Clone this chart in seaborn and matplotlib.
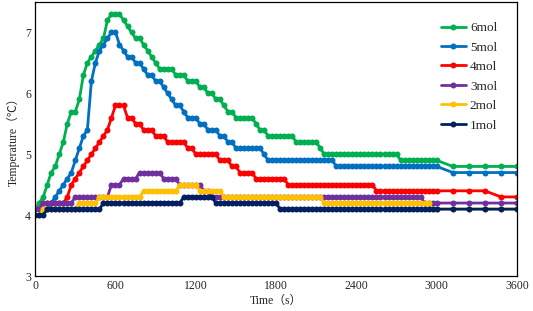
import pandas as pd
import seaborn as sns
import matplotlib.pyplot as plt
from matplotlib.colors import to_hex

# Sample times (s): every 30 s up to 3000 s, then every 120 s
time_s = list(range(0, 3001, 30)) + [3120, 3240, 3360, 3480, 3600]

# Temperature readings (degC), one row per 300 s, then the 3000-3600 tail
mol6 = [
    4.1, 4.2, 4.3, 4.5, 4.7, 4.8, 5.0, 5.2, 5.5, 5.7,
    5.7, 5.9, 6.3, 6.5, 6.6, 6.7, 6.8, 6.9, 7.2, 7.3,
    7.3, 7.3, 7.2, 7.1, 7.0, 6.9, 6.9, 6.8, 6.7, 6.6,
    6.5, 6.4, 6.4, 6.4, 6.4, 6.3, 6.3, 6.3, 6.2, 6.2,
    6.2, 6.1, 6.1, 6.0, 6.0, 5.9, 5.9, 5.8, 5.7, 5.7,
    5.6, 5.6, 5.6, 5.6, 5.6, 5.5, 5.4, 5.4, 5.3, 5.3,
    5.3, 5.3, 5.3, 5.3, 5.3, 5.2, 5.2, 5.2, 5.2, 5.2,
    5.2, 5.1, 5.0, 5.0, 5.0, 5.0, 5.0, 5.0, 5.0, 5.0,
    5.0, 5.0, 5.0, 5.0, 5.0, 5.0, 5.0, 5.0, 5.0, 5.0,
    5.0, 4.9, 4.9, 4.9, 4.9, 4.9, 4.9, 4.9, 4.9, 4.9,
    4.9, 4.8, 4.8, 4.8, 4.8, 4.8,
]
mol5 = [
    4.1, 4.1, 4.1, 4.1, 4.2, 4.3, 4.4, 4.5, 4.6, 4.7,
    4.9, 5.1, 5.3, 5.4, 6.2, 6.5, 6.7, 6.8, 6.9, 7.0,
    7.0, 6.8, 6.7, 6.6, 6.6, 6.5, 6.5, 6.4, 6.3, 6.3,
    6.2, 6.2, 6.1, 6.0, 5.9, 5.8, 5.8, 5.7, 5.6, 5.6,
    5.6, 5.5, 5.5, 5.4, 5.4, 5.4, 5.3, 5.3, 5.2, 5.2,
    5.1, 5.1, 5.1, 5.1, 5.1, 5.1, 5.1, 5.0, 4.9, 4.9,
    4.9, 4.9, 4.9, 4.9, 4.9, 4.9, 4.9, 4.9, 4.9, 4.9,
    4.9, 4.9, 4.9, 4.9, 4.9, 4.8, 4.8, 4.8, 4.8, 4.8,
    4.8, 4.8, 4.8, 4.8, 4.8, 4.8, 4.8, 4.8, 4.8, 4.8,
    4.8, 4.8, 4.8, 4.8, 4.8, 4.8, 4.8, 4.8, 4.8, 4.8,
    4.8, 4.7, 4.7, 4.7, 4.7, 4.7,
]
mol4 = [
    4.1, 4.1, 4.2, 4.2, 4.2, 4.2, 4.2, 4.2, 4.3, 4.5,
    4.6, 4.7, 4.8, 4.9, 5.0, 5.1, 5.2, 5.3, 5.4, 5.6,
    5.8, 5.8, 5.8, 5.6, 5.6, 5.5, 5.5, 5.4, 5.4, 5.4,
    5.3, 5.3, 5.3, 5.2, 5.2, 5.2, 5.2, 5.2, 5.1, 5.1,
    5.0, 5.0, 5.0, 5.0, 5.0, 5.0, 4.9, 4.9, 4.9, 4.8,
    4.8, 4.7, 4.7, 4.7, 4.7, 4.6, 4.6, 4.6, 4.6, 4.6,
    4.6, 4.6, 4.6, 4.5, 4.5, 4.5, 4.5, 4.5, 4.5, 4.5,
    4.5, 4.5, 4.5, 4.5, 4.5, 4.5, 4.5, 4.5, 4.5, 4.5,
    4.5, 4.5, 4.5, 4.5, 4.5, 4.4, 4.4, 4.4, 4.4, 4.4,
    4.4, 4.4, 4.4, 4.4, 4.4, 4.4, 4.4, 4.4, 4.4, 4.4,
    4.4, 4.4, 4.4, 4.4, 4.3, 4.3,
]
mol3 = [
    4.1, 4.1, 4.2, 4.2, 4.2, 4.2, 4.2, 4.2, 4.2, 4.2,
    4.3, 4.3, 4.3, 4.3, 4.3, 4.3, 4.3, 4.3, 4.3, 4.5,
    4.5, 4.5, 4.6, 4.6, 4.6, 4.6, 4.7, 4.7, 4.7, 4.7,
    4.7, 4.7, 4.6, 4.6, 4.6, 4.6, 4.5, 4.5, 4.5, 4.5,
    4.5, 4.5, 4.4, 4.4, 4.3, 4.3, 4.3, 4.3, 4.3, 4.3,
    4.3, 4.3, 4.3, 4.3, 4.3, 4.3, 4.3, 4.3, 4.3, 4.3,
    4.3, 4.3, 4.3, 4.3, 4.3, 4.3, 4.3, 4.3, 4.3, 4.3,
    4.3, 4.3, 4.3, 4.3, 4.3, 4.3, 4.3, 4.3, 4.3, 4.3,
    4.3, 4.3, 4.3, 4.3, 4.3, 4.3, 4.3, 4.3, 4.3, 4.3,
    4.3, 4.3, 4.3, 4.3, 4.3, 4.3, 4.3, 4.2, 4.2, 4.2,
    4.2, 4.2, 4.2, 4.2, 4.2, 4.2,
]
mol2 = [
    4.0, 4.0, 4.1, 4.1, 4.1, 4.1, 4.1, 4.1, 4.1, 4.1,
    4.1, 4.2, 4.2, 4.2, 4.2, 4.2, 4.3, 4.3, 4.3, 4.3,
    4.3, 4.3, 4.3, 4.3, 4.3, 4.3, 4.3, 4.4, 4.4, 4.4,
    4.4, 4.4, 4.4, 4.4, 4.4, 4.4, 4.5, 4.5, 4.5, 4.5,
    4.5, 4.4, 4.4, 4.4, 4.4, 4.4, 4.4, 4.3, 4.3, 4.3,
    4.3, 4.3, 4.3, 4.3, 4.3, 4.3, 4.3, 4.3, 4.3, 4.3,
    4.3, 4.3, 4.3, 4.3, 4.3, 4.3, 4.3, 4.3, 4.3, 4.3,
    4.3, 4.3, 4.2, 4.2, 4.2, 4.2, 4.2, 4.2, 4.2, 4.2,
    4.2, 4.2, 4.2, 4.2, 4.2, 4.2, 4.2, 4.2, 4.2, 4.2,
    4.2, 4.2, 4.2, 4.2, 4.2, 4.2, 4.2, 4.2, 4.2, 4.1,
    4.1, 4.1, 4.1, 4.1, 4.1, 4.1,
]
mol1 = [
    4.0, 4.0, 4.0, 4.1, 4.1, 4.1, 4.1, 4.1, 4.1, 4.1,
    4.1, 4.1, 4.1, 4.1, 4.1, 4.1, 4.1, 4.2, 4.2, 4.2,
    4.2, 4.2, 4.2, 4.2, 4.2, 4.2, 4.2, 4.2, 4.2, 4.2,
    4.2, 4.2, 4.2, 4.2, 4.2, 4.2, 4.2, 4.3, 4.3, 4.3,
    4.3, 4.3, 4.3, 4.3, 4.3, 4.2, 4.2, 4.2, 4.2, 4.2,
    4.2, 4.2, 4.2, 4.2, 4.2, 4.2, 4.2, 4.2, 4.2, 4.2,
    4.2, 4.1, 4.1, 4.1, 4.1, 4.1, 4.1, 4.1, 4.1, 4.1,
    4.1, 4.1, 4.1, 4.1, 4.1, 4.1, 4.1, 4.1, 4.1, 4.1,
    4.1, 4.1, 4.1, 4.1, 4.1, 4.1, 4.1, 4.1, 4.1, 4.1,
    4.1, 4.1, 4.1, 4.1, 4.1, 4.1, 4.1, 4.1, 4.1, 4.1,
    4.1, 4.1, 4.1, 4.1, 4.1, 4.1,
]

labels = ["6mol", "5mol", "4mol", "3mol", "2mol", "1mol"]
series = [mol6, mol5, mol4, mol3, mol2, mol1]
colors = {"6mol": "#00B050", "5mol": "#0070C0", "4mol": "#FF0000",
          "3mol": "#7030A0", "2mol": "#FFC000", "1mol": "#002060"}

# long-form table for seaborn
frames = []
for lab, vals in zip(labels, series):
    frames.append(pd.DataFrame({"time": time_s, "temp": vals, "series": lab}))
df = pd.concat(frames, ignore_index=True)

sns.set_style("white")
plt.rcParams["font.family"] = ["Liberation Serif", "Noto Sans CJK SC", "DejaVu Sans"]

fig, ax = plt.subplots(figsize=(5.33, 3.11), dpi=100)
fig.subplots_adjust(left=0.066, right=0.970, bottom=0.112, top=0.994)

sns.lineplot(data=df, x="time", y="temp", hue="series", hue_order=labels,
             palette=colors, marker="o", markersize=4.3, markeredgewidth=0,
             linewidth=2.0, legend=False, ax=ax)

# label the drawn lines by colour so the legend order is right
color_to_label = {v.lower(): k for k, v in colors.items()}
for line in ax.lines:
    lab = color_to_label.get(to_hex(line.get_color()).lower())
    if lab:
        line.set_label(lab)
handles = {l.get_label(): l for l in ax.lines}
ax.legend([handles[l] for l in labels], labels, loc="upper left",
          bbox_to_anchor=(0.842, 0.927), frameon=False, fontsize=9.5,
          handlelength=1.9, handletextpad=0.3, labelspacing=0.55,
          borderpad=0, borderaxespad=0)

ax.set_xlim(0, 3600)
ax.set_ylim(3, 7.5)
ax.set_xticks([0, 600, 1200, 1800, 2400, 3000, 3600])
ax.set_yticks([3, 4, 5, 6, 7])
ax.tick_params(direction="in", length=3, width=0.8, labelsize=8.5, pad=3)
ax.set_xlabel("Time（s）", fontsize=8.5, labelpad=1.5)
ax.set_ylabel("Temperature（℃）", fontsize=8.5, labelpad=4)
for sp in ax.spines.values():
    sp.set_color("black")
    sp.set_linewidth(0.9)

plt.savefig("out.png", dpi=100)
